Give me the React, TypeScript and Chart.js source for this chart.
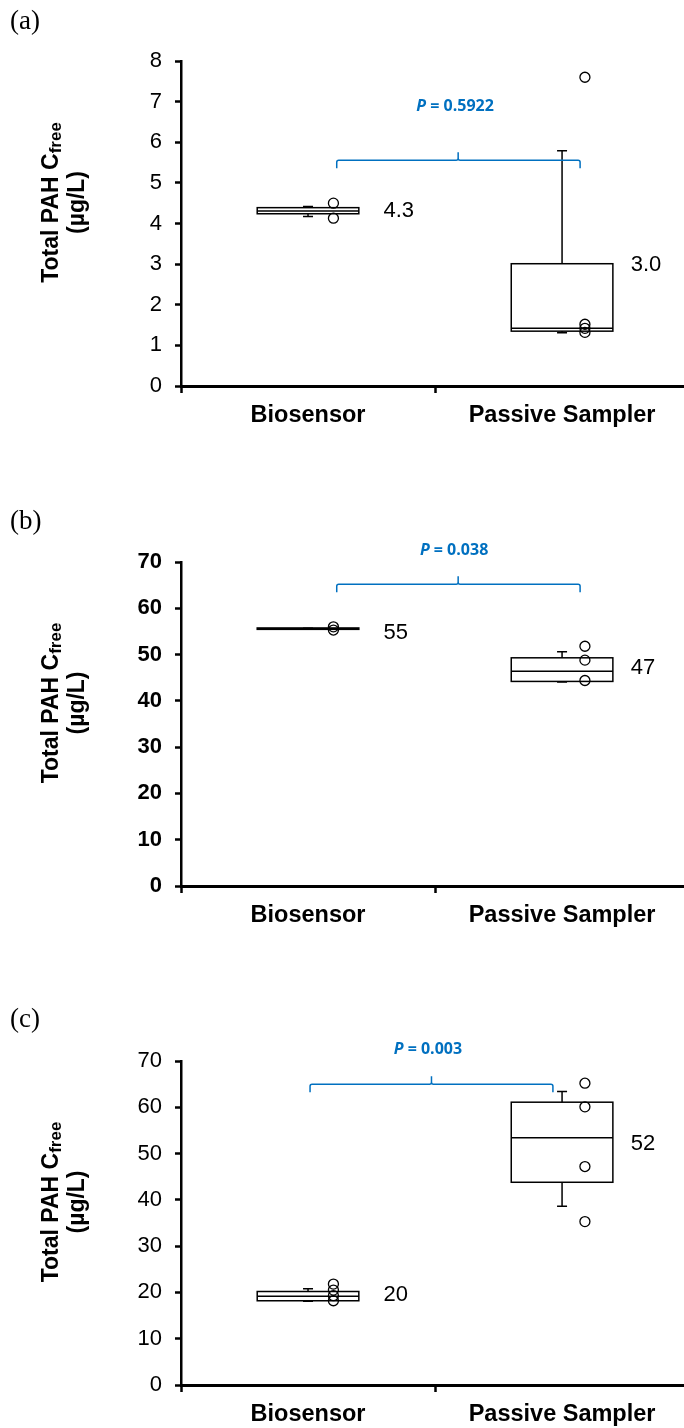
import React, { useEffect, useRef } from "react";
import { Chart, registerables } from "chart.js";

Chart.register(...registerables);

// ---------- shared categories ----------
const categories = ["Biosensor", "Passive Sampler"];
const categoryX = [0.5, 1.5];
const pointX = [0.6, 1.59];
const meanLabelX = [0.797, 1.77];
const xTickValues = [0, 0.5, 1, 1.5];

// ---------- panel (a) ----------
const aQ1 = [4.24, 1.35];
const aMedian = [4.31, 1.42];
const aQ3 = [4.39, 3.01];
const aWhiskerLow = [4.17, 1.31];
const aWhiskerHigh = [4.42, 5.79];
const aPointsBiosensor = [4.5, 4.13];
const aPointsPassive = [7.6, 1.52, 1.42, 1.32];
const aMeanLabels = ["4.3", "3.0"];
const aMeanY = [4.3, 2.98];
const aPValue = "0.5922";

// ---------- panel (b) ----------
const bQ1 = [55.45, 44.2];
const bMedian = [55.6, 46.4];
const bQ3 = [55.75, 49.3];
const bWhiskerLow = [55.5, 44.1];
const bWhiskerHigh = [55.7, 50.6];
const bPointsBiosensor = [56.0, 55.3];
const bPointsPassive = [51.8, 48.8, 44.4];
const bMeanLabels = ["55", "47"];
const bMeanY = [54.6, 47.1];
const bPValue = "0.038";

// ---------- panel (c) ----------
const cQ1 = [18.2, 43.8];
const cMedian = [19.2, 53.4];
const cQ3 = [20.2, 61.1];
const cWhiskerLow = [18.1, 38.6];
const cWhiskerHigh = [20.8, 63.4];
const cPointsBiosensor = [21.8, 20.5, 19.3, 18.2];
const cPointsPassive = [65.2, 60.1, 47.2, 35.3];
const cMeanLabels = ["20", "52"];
const cMeanY = [19.4, 52.05];
const cPValue = "0.003";

const FONT = '"Liberation Sans", Arial, sans-serif';
const BLUE = "#0070C0";

type Panel = {
  letter: string;
  letterBaseline: number;
  height: number;
  plotTop: number;
  plotBottom: number;
  yMax: number;
  yStep: number;
  tickBold: boolean;
  q1: number[];
  median: number[];
  q3: number[];
  low: number[];
  high: number[];
  pts: number[][];
  meanLabels: string[];
  meanY: number[];
  pValue: string;
  bracket: { x1: number; x2: number; xm: number; y: number };
  pPos: { x: number; y: number };
};

const panels: Panel[] = [
  {
    letter: "(a)", letterBaseline: 29, height: 470, plotTop: 61, plotBottom: 386,
    yMax: 8, yStep: 1, tickBold: false,
    q1: aQ1, median: aMedian, q3: aQ3, low: aWhiskerLow, high: aWhiskerHigh,
    pts: [aPointsBiosensor, aPointsPassive], meanLabels: aMeanLabels, meanY: aMeanY,
    pValue: aPValue,
    bracket: { x1: 0.613, x2: 1.571, xm: 1.091, y: 5.56 },
    pPos: { x: 1.079, y: 6.87 },
  },
  {
    letter: "(b)", letterBaseline: 59, height: 480, plotTop: 92, plotBottom: 416,
    yMax: 70, yStep: 10, tickBold: true,
    q1: bQ1, median: bMedian, q3: bQ3, low: bWhiskerLow, high: bWhiskerHigh,
    pts: [bPointsBiosensor, bPointsPassive], meanLabels: bMeanLabels, meanY: bMeanY,
    pValue: bPValue,
    bracket: { x1: 0.613, x2: 1.571, xm: 1.091, y: 65.2 },
    pPos: { x: 1.075, y: 72.4 },
  },
  {
    letter: "(c)", letterBaseline: 77, height: 478, plotTop: 111, plotBottom: 435,
    yMax: 70, yStep: 10, tickBold: false,
    q1: cQ1, median: cMedian, q3: cQ3, low: cWhiskerLow, high: cWhiskerHigh,
    pts: [cPointsBiosensor, cPointsPassive], meanLabels: cMeanLabels, meanY: cMeanY,
    pValue: cPValue,
    bracket: { x1: 0.508, x2: 1.464, xm: 0.986, y: 65.0 },
    pPos: { x: 0.972, y: 72.5 },
  },
];

function boxPlugin(p: Panel) {
  return {
    id: "boxes",
    beforeDatasetsDraw(chart: any) {
      const ctx = chart.ctx;
      const xs = chart.scales.x;
      const ys = chart.scales.y;
      ctx.save();
      ctx.strokeStyle = "#000";
      ctx.lineWidth = 1.5;
      for (let i = 0; i < categories.length; i++) {
        const cx = xs.getPixelForValue(categoryX[i]);
        const half = xs.getPixelForValue(categoryX[i] + 0.2) - cx;
        const yLow = ys.getPixelForValue(p.low[i]);
        const yHigh = ys.getPixelForValue(p.high[i]);
        const yQ1 = ys.getPixelForValue(p.q1[i]);
        const yQ3 = ys.getPixelForValue(p.q3[i]);
        const yMed = ys.getPixelForValue(p.median[i]);
        // whisker
        ctx.beginPath();
        ctx.moveTo(cx, yLow);
        ctx.lineTo(cx, yHigh);
        ctx.moveTo(cx - 5, yLow);
        ctx.lineTo(cx + 5, yLow);
        ctx.moveTo(cx - 5, yHigh);
        ctx.lineTo(cx + 5, yHigh);
        ctx.stroke();
        // box
        ctx.fillStyle = "#fff";
        ctx.fillRect(cx - half, yQ3, 2 * half, yQ1 - yQ3);
        ctx.strokeRect(cx - half, yQ3, 2 * half, yQ1 - yQ3);
        // median
        ctx.beginPath();
        ctx.moveTo(cx - half, yMed);
        ctx.lineTo(cx + half, yMed);
        ctx.stroke();
      }
      ctx.restore();
    },
    afterDraw(chart: any) {
      const ctx = chart.ctx;
      const xs = chart.scales.x;
      const ys = chart.scales.y;
      const area = chart.chartArea;
      ctx.save();
      // mean labels
      ctx.fillStyle = "#000";
      ctx.font = `22px ${FONT}`;
      ctx.textAlign = "left";
      ctx.textBaseline = "middle";
      for (let i = 0; i < categories.length; i++) {
        ctx.fillText(p.meanLabels[i], xs.getPixelForValue(meanLabelX[i]), ys.getPixelForValue(p.meanY[i]));
      }
      // bracket
      const x1 = xs.getPixelForValue(p.bracket.x1);
      const x2 = xs.getPixelForValue(p.bracket.x2);
      const xm = xs.getPixelForValue(p.bracket.xm);
      const yb = ys.getPixelForValue(p.bracket.y);
      ctx.strokeStyle = BLUE;
      ctx.lineWidth = 1.5;
      ctx.beginPath();
      ctx.moveTo(x1, yb + 8);
      ctx.lineTo(x1, yb + 2);
      ctx.quadraticCurveTo(x1, yb, x1 + 2, yb);
      ctx.lineTo(xm - 2, yb);
      ctx.quadraticCurveTo(xm, yb, xm, yb - 2);
      ctx.lineTo(xm, yb - 8);
      ctx.moveTo(xm, yb - 2);
      ctx.quadraticCurveTo(xm, yb, xm + 2, yb);
      ctx.lineTo(x2 - 2, yb);
      ctx.quadraticCurveTo(x2, yb, x2, yb + 2);
      ctx.lineTo(x2, yb + 8);
      ctx.stroke();
      // P text
      const px = xs.getPixelForValue(p.pPos.x);
      const py = ys.getPixelForValue(p.pPos.y);
      const fItal = `italic bold 16px "Open Sans", sans-serif`;
      const fBold = `bold 16px "Open Sans", sans-serif`;
      const rest = " = " + p.pValue;
      ctx.font = fItal;
      const wP = ctx.measureText("P").width;
      ctx.font = fBold;
      const wR = ctx.measureText(rest).width;
      const start = px - (wP + wR) / 2;
      ctx.fillStyle = BLUE;
      ctx.textAlign = "left";
      ctx.textBaseline = "middle";
      ctx.font = fItal;
      ctx.fillText("P", start, py);
      ctx.font = fBold;
      ctx.fillText(rest, start + wP, py);
      // y-axis title
      const cy = (area.top + area.bottom) / 2 - 21;
      ctx.fillStyle = "#000";
      ctx.translate(0, cy);
      ctx.rotate(-Math.PI / 2);
      ctx.textBaseline = "alphabetic";
      const mainF = `bold 23px ${FONT}`;
      const subF = `bold 17px ${FONT}`;
      ctx.font = mainF;
      const mainText = "Total PAH C";
      const wm = ctx.measureText(mainText).width;
      ctx.font = subF;
      const ws = ctx.measureText("free").width;
      const s1 = -(wm + ws) / 2;
      ctx.font = mainF;
      ctx.fillText(mainText, s1, 58);
      ctx.font = subF;
      ctx.fillText("free", s1 + wm, 61);
      ctx.font = mainF;
      ctx.textAlign = "center";
      ctx.fillText("(µg/L)", 0, 84);
      ctx.restore();
      // panel letter
      ctx.save();
      ctx.fillStyle = "#000";
      ctx.font = `27px "Liberation Serif", "Times New Roman", serif`;
      ctx.textAlign = "left";
      ctx.textBaseline = "alphabetic";
      ctx.fillText(p.letter, 10, p.letterBaseline);
      ctx.restore();
    },
  };
}

function PanelChart({ p, top }: { p: Panel; top: number }) {
  const ref = useRef<HTMLCanvasElement | null>(null);
  useEffect(() => {
    if (!ref.current) return;
    const pointDs = (vals: number[], x: number) => ({
      data: vals.map((y) => ({ x, y })),
      pointRadius: 5,
      pointBorderWidth: 1.3,
      pointBorderColor: "#000",
      pointBackgroundColor: "rgba(0,0,0,0)",
      showLine: false,
      clip: false as any,
    });
    const chart = new Chart(ref.current, {
      type: "scatter",
      data: {
        datasets: [pointDs(p.pts[0], pointX[0]), pointDs(p.pts[1], pointX[1])],
      },
      options: {
        animation: false,
        responsive: true,
        maintainAspectRatio: false,
        events: [],
        layout: { autoPadding: false, padding: { top: p.plotTop, left: 0, right: 0, bottom: 0 } },
        plugins: {
          legend: { display: false },
          tooltip: { enabled: false },
          title: { display: false },
        },
        scales: {
          x: {
            type: "linear",
            min: 0,
            max: 1.98,
            afterBuildTicks: (s: any) => {
              s.ticks = xTickValues.map((v) => ({ value: v }));
            },
            afterFit: (s: any) => {
              s.height = p.height - p.plotBottom;
              s.paddingRight = 0;
              s.paddingLeft = 0;
            },
            ticks: {
              autoSkip: false,
              maxRotation: 0,
              minRotation: 0,
              padding: 8,
              color: "#000",
              font: { family: FONT, size: 23.5, weight: "bold" },
              callback: (v: any) => {
                const idx = categoryX.indexOf(Number(v));
                return idx >= 0 ? categories[idx] : "";
              },
            },
            grid: {
              drawOnChartArea: false,
              drawTicks: true,
              tickLength: 7,
              tickWidth: 2.5,
              tickColor: (c: any) =>
                c.tick && Number.isInteger(c.tick.value) ? "#000" : "rgba(0,0,0,0)",
            },
            border: { color: "#000", width: 3 },
          },
          y: {
            type: "linear",
            min: 0,
            max: p.yMax,
            afterFit: (s: any) => {
              s.width = 181;
            },
            ticks: {
              stepSize: p.yStep,
              padding: 13,
              color: "#000",
              font: { family: FONT, size: 22, weight: p.tickBold ? "bold" : "normal" },
            },
            grid: {
              drawOnChartArea: false,
              tickLength: 6,
              tickWidth: 2.5,
              tickColor: "#000",
            },
            border: { color: "#000", width: 2.5 },
          },
        },
      } as any,
      plugins: [boxPlugin(p)],
    });
    return () => chart.destroy();
  }, [p]);
  return (
    <div style={{ position: "absolute", left: 0, top, width: 684, height: p.height }}>
      <canvas ref={ref} />
    </div>
  );
}

export default function App() {
  const tops = [0, 470, 950];
  return (
    <div style={{ position: "absolute", left: 0, top: 0, width: 684, height: 1428, background: "#fff" }}>
      {panels.map((p, i) => (
        <PanelChart key={i} p={p} top={tops[i]} />
      ))}
    </div>
  );
}
